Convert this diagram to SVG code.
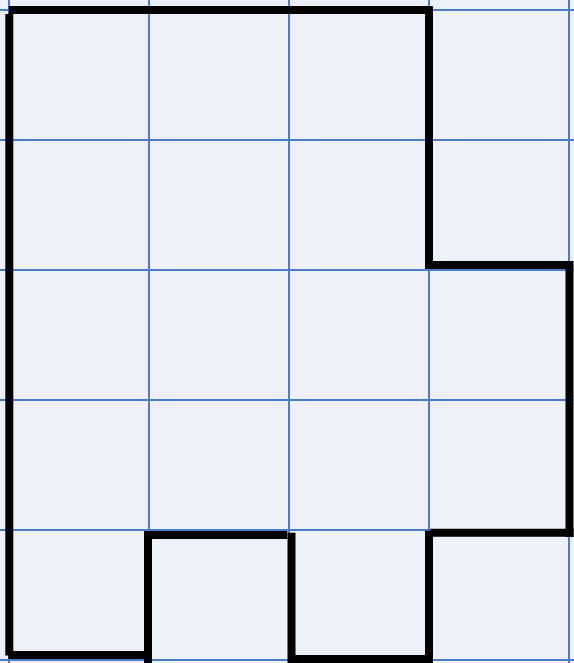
<svg xmlns="http://www.w3.org/2000/svg" width="574" height="663" viewBox="0 0 574 663">
<style>
.g{stroke:#4A7DC4;stroke-width:2;fill:none}
.o{stroke:#000;stroke-width:8;fill:none;stroke-linecap:butt}
</style>
<rect x="0" y="0" width="574" height="663" fill="#EDF1F7"/>
<g id="grid">
<line class="g" x1="9" y1="0" x2="9" y2="663"/>
<line class="g" x1="149" y1="0" x2="149" y2="663"/>
<line class="g" x1="289" y1="0" x2="289" y2="663"/>
<line class="g" x1="429" y1="0" x2="429" y2="663"/>
<line class="g" x1="569" y1="0" x2="569" y2="663"/>
<line class="g" x1="0" y1="10" x2="574" y2="10"/>
<line class="g" x1="0" y1="140" x2="574" y2="140"/>
<line class="g" x1="0" y1="270" x2="574" y2="270"/>
<line class="g" x1="0" y1="400" x2="574" y2="400"/>
<line class="g" x1="0" y1="530" x2="574" y2="530"/>
<line class="g" x1="0" y1="660" x2="574" y2="660"/>
</g>
<g id="outline">
<line class="o" x1="8.7" y1="10" x2="432.5" y2="10"/>
<line class="o" x1="9.3" y1="14" x2="9.3" y2="655.5"/>
<line class="o" x1="429" y1="6.5" x2="429" y2="267"/>
<line class="o" x1="425" y1="265" x2="573" y2="265"/>
<line class="o" x1="569.5" y1="261" x2="569.5" y2="537"/>
<line class="o" x1="430.5" y1="532.7" x2="573.5" y2="532.7"/>
<line class="o" x1="429" y1="530.7" x2="429" y2="663"/>
<line class="o" x1="291" y1="659" x2="425" y2="659"/>
<line class="o" x1="291.5" y1="532.7" x2="291.5" y2="663"/>
<line class="o" x1="144" y1="535" x2="287.3" y2="535"/>
<line class="o" x1="148" y1="531" x2="148" y2="663"/>
<line class="o" x1="8.3" y1="655" x2="148" y2="655"/>
</g>
</svg>
